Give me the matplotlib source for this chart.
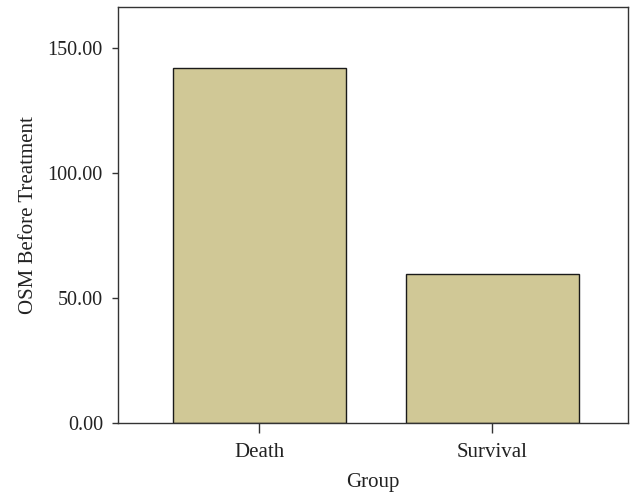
import matplotlib
matplotlib.use("Agg")
import matplotlib.pyplot as plt

groups = ["Death", "Survival"]
osm_before = [142.2, 59.7]
y_ticks = [0, 50, 100, 150]

plt.rcParams["font.family"] = ["Liberation Serif", "DejaVu Serif"]

fig = plt.figure(figsize=(6.32, 4.94), dpi=100)
ax = fig.add_axes([0.187, 0.1443, 0.8067, 0.8409])

ax.bar(range(len(groups)), osm_before, width=0.743, color="#D0C896",
       edgecolor="#1a1a1a", linewidth=1.0, zorder=2)

ax.set_xlim(-0.607, 1.583)
ax.set_ylim(0, 166.4)
ax.set_xticks(range(len(groups)))
ax.set_xticklabels(groups)
ax.set_yticks(y_ticks)
ax.set_yticklabels([f"{v:.2f}" for v in y_ticks])

for s in ax.spines.values():
    s.set_color("#333333")
    s.set_linewidth(1.0)

ax.tick_params(axis="x", length=7.5, width=1.0, color="#333333", pad=7,
               labelsize=15, labelcolor="#222222")
ax.tick_params(axis="y", length=4, width=1.0, color="#333333", pad=7,
               labelsize=14.5, labelcolor="#222222")

ax.set_xlabel("Group", fontsize=15, color="#222222", labelpad=8)
ax.set_ylabel("OSM Before Treatment", fontsize=15, color="#222222", labelpad=7)

fig.savefig("out.png", dpi=100)
